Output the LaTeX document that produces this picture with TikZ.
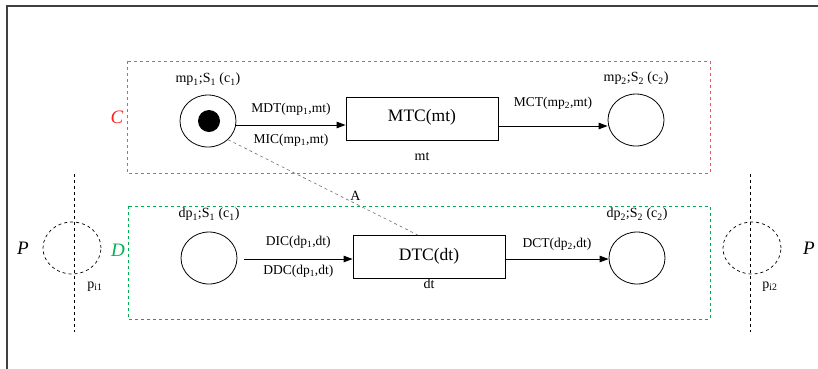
\documentclass[tikz,border=0pt]{standalone}
\usepackage{fontspec}
\setmainfont{Liberation Serif}
\usepackage{tikz}
\usetikzlibrary{
  arrows.meta,
  shapes.geometric,
  positioning,
  calc
}
\definecolor{zoneC}{HTML}{DC5A68}
\definecolor{zoneD}{HTML}{00B050}
\definecolor{tagC}{HTML}{FF2020}
\definecolor{edgeA}{HTML}{707070}
\tikzset{
  place/.style={
    draw, ellipse, minimum width=56pt, minimum height=52pt, inner sep=0pt, line width=0.8pt
  },
  trans/.style={
    draw, rectangle, minimum width=152pt, minimum height=43pt, line width=0.8pt,
    font=\fontsize{17.5}{19}\selectfont
  },
  portal/.style={draw, dashed, ellipse, minimum width=58pt, minimum height=52pt, line width=0.7pt},
  cutline/.style={dashed, line width=0.7pt},
  zone/.style={dashed, line width=0.9pt},
  ptag/.style={font=\fontsize{14}{16}\selectfont, inner sep=1pt},
  arclbl/.style={font=\fontsize{13.5}{15}\selectfont, inner sep=1pt},
  zonetag/.style={font=\fontsize{19}{21}\selectfont\itshape, inner sep=0pt},
  arc/.style={-{Triangle[length=9pt,width=6.5pt]}, line width=1pt},
  link/.style={dashed, edgeA, line width=0.6pt}
}
\newcommand{\sub}[1]{\textsubscript{#1}}

\begin{document}
\begin{tikzpicture}[x=1pt, y=-1pt, node distance=4pt]
  \useasboundingbox (0,0) rectangle (818,368);
  % outer frame
  \draw[line width=1.3pt, black!75] (7,380) -- (7,6) -- (830,6);

  % zones
  \draw[zone, zoneC] (127,61) rectangle (710,173);
  \draw[zone, zoneD] (128,206) rectangle (710,319);
  \node[zonetag, text=tagC] (tagc) at (117,117) {C};
  \node[zonetag, text=zoneD] (tagd) at (118,250) {D};

  % C part
  \node[place] (mpone) at (208,121) {};
  \fill (209,121) circle (11pt);
  \node[ptag] (mponelbl) at ([yshift=15pt]mpone.north) {mp\sub{1};S\sub{1} (c\sub{1})};
  \node[trans] (mtc) at (422,118.5) {\raisebox{6pt}{MTC(mt)}};
  \node[ptag] (mtclbl) at ([yshift=-16pt]mtc.south) {mt};
  \node[place] (mptwo) at (636,120) {};
  \node[ptag] (mptwolbl) at ([yshift=15pt]mptwo.north) {mp\sub{2};S\sub{2} (c\sub{2})};

  \draw[arc] (mpone.east |- 0,125) -- node[arclbl, yshift=16pt] {MDT(mp\sub{1},mt)}
    node[arclbl, yshift=-15pt] {MIC(mp\sub{1},mt)} (mtc.west |- 0,125);
  \draw[arc] (mtc.east |- 0,126) -- node[arclbl, yshift=23pt] {MCT(mp\sub{2},mt)} (mptwo.west |- 0,126);

  % D part
  \node[place] (dpone) at (209,258) {};
  \node[ptag] (dponelbl) at ([yshift=17pt]dpone.north) {dp\sub{1};S\sub{1} (c\sub{1})};
  \node[trans] (dtc) at (429,257) {\raisebox{6pt}{DTC(dt)}};
  \node[ptag] (dtclbl) at ([yshift=-5pt]dtc.south) {dt};
  \node[place] (dptwo) at (637,258) {};
  \node[ptag] (dptwolbl) at ([yshift=17pt]dptwo.north) {dp\sub{2};S\sub{2} (c\sub{2})};

  \draw[arc] (244,259) -- node[arclbl, yshift=17pt] {DIC(dp\sub{1},dt)}
    node[arclbl, yshift=-12pt] {DDC(dp\sub{1},dt)} (dtc.west |- 0,259);
  \draw[arc] (dtc.east |- 0,259) -- node[arclbl, yshift=15pt] {DCT(dp\sub{2},dt)} (dptwo.west |- 0,259);

  % link between C and D
  \draw[link] (mpone.south east) -- node[pos=0.67, ptag, text=black, yshift=8pt] {A} ([xshift=-11pt]dtc.north);

  % portals
  \coordinate (cutlt) at (74,174);
  \coordinate (cutlb) at (74,332);
  \coordinate (cutrt) at (750,174);
  \coordinate (cutrb) at (750,332);
  \draw[cutline] (cutlt) -- (cutlb);
  \draw[cutline] (cutrt) -- (cutrb);
  \node[portal] (pione) at (72,248) {};
  \node[portal] (pitwo) at (752,248) {};
  \node[ptag] (pionelbl) at ($(pione.south)+(23,12)$) {p\sub{i1}};
  \node[ptag] (pitwolbl) at ($(pitwo.south)+(18,12)$) {p\sub{i2}};
  \node[zonetag] (pleft) at (23,248) {P};
  \node[zonetag] (pright) at (809,248) {P};
\end{tikzpicture}
\end{document}
